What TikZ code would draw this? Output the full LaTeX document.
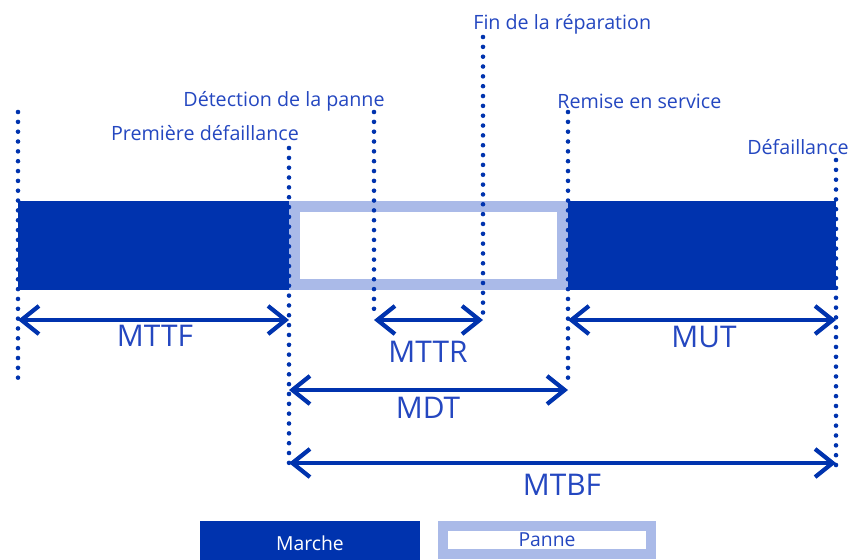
\documentclass[tikz,border=0pt]{standalone}
\usepackage{fontspec}
\setmainfont{Open Sans}
\usetikzlibrary{arrows.meta,positioning,calc}
\definecolor{marche}{HTML}{0033AE}
\definecolor{panne}{HTML}{AABAE8}
\definecolor{txtblue}{HTML}{2447C0}

\begin{document}
\begin{tikzpicture}[
    x=0.02cm, y=-0.02cm,
    event/.style={draw=marche, line width=2.6pt, line cap=round, dash pattern=on 0pt off 5.6pt},
    span/.style={draw=marche, line width=2.4pt,
        {Straight Barb[length=10pt, width=16pt]}-{Straight Barb[length=10pt, width=16pt]}},
    lbl/.style={text=txtblue, font=\fontsize{11.2}{13}\selectfont, inner sep=0pt},
    big/.style={text=txtblue, font=\fontsize{17}{20}\selectfont, inner sep=0pt},
    legm/.style={fill=marche, text=white, font=\fontsize{11}{13}\selectfont,
        minimum width=4.4cm, minimum height=0.88cm, inner sep=0pt},
    legp/.style={draw=panne, line width=5.7pt, fill=white, text=txtblue, font=\fontsize{11}{13}\selectfont,
        minimum width=4.18cm, minimum height=0.56cm, inner sep=0pt}
]
\useasboundingbox (0,0) rectangle (851,559);
\clip (0,0) rectangle (851,559);

% ----------------------------
% Event times
% ----------------------------
\coordinate (t0) at (18,0);
\coordinate (t1) at (289,0);
\coordinate (t2) at (374,0);
\coordinate (t3) at (483,0);
\coordinate (t4) at (568,0);
\coordinate (t5) at (836,0);

% ----------------------------
% State bars
% ----------------------------
\fill[marche] (t0 |- 0,201) rectangle (t1 |- 0,290);
\fill[marche] (t4 |- 0,201) rectangle (t5 |- 0,290);
\draw[panne, line width=6.2pt] ($(t1 |- 0,201)+(5.5,5.5)$) rectangle ($(t4 |- 0,290)+(-5.5,-5.5)$);

% ----------------------------
% Event lines and labels
% ----------------------------
\path[event] (t0 |- 0,112) -- (t0 |- 0,385);
\path[event] (t1 |- 0,148) -- (t1 |- 0,468);
\path[event] (t2 |- 0,112) -- (t2 |- 0,315);
\path[event] (t3 |- 0,37) -- (t3 |- 0,315);
\path[event] (t4 |- 0,112) -- (t4 |- 0,385);
\path[event] (t5 |- 0,160) -- (t5 |- 0,468);

\node[lbl, anchor=west] (fin) at (473,24) {Fin de la réparation};
\node[lbl] (detection) at (284,101) {Détection de la panne};
\node[lbl] (premiere) at (205,133) {Première défaillance};
\node[lbl, anchor=west] (remise) at (557,101) {Remise en service};
\node[lbl, anchor=east] (defaillance) at (849,147) {Défaillance};

% ----------------------------
% Durations
% ----------------------------
\path[span] (t0 |- 0,320) -- (t1 |- 0,320);
\path[span] (t2 |- 0,320) -- (t3 |- 0,320);
\path[span] (t4 |- 0,320) -- (t5 |- 0,320);
\path[span] (t1 |- 0,390) -- (t4 |- 0,390);
\path[span] (t1 |- 0,463) -- (t5 |- 0,463);

\node[big] (mttf) at (155,336) {MTTF};
\node[big] (mttr) at (428,352) {MTTR};
\node[big] (mut) at (704,337) {MUT};
\node[big] (mdt) at (428,408) {MDT};
\node[big] (mtbf) at (562,485) {MTBF};

% ----------------------------
% Legend
% ----------------------------
\node[legm] (legmarche) at (310,543) {Marche};
\node[legp] (legpanne) at (547,540) {Panne};

\end{tikzpicture}
\end{document}
